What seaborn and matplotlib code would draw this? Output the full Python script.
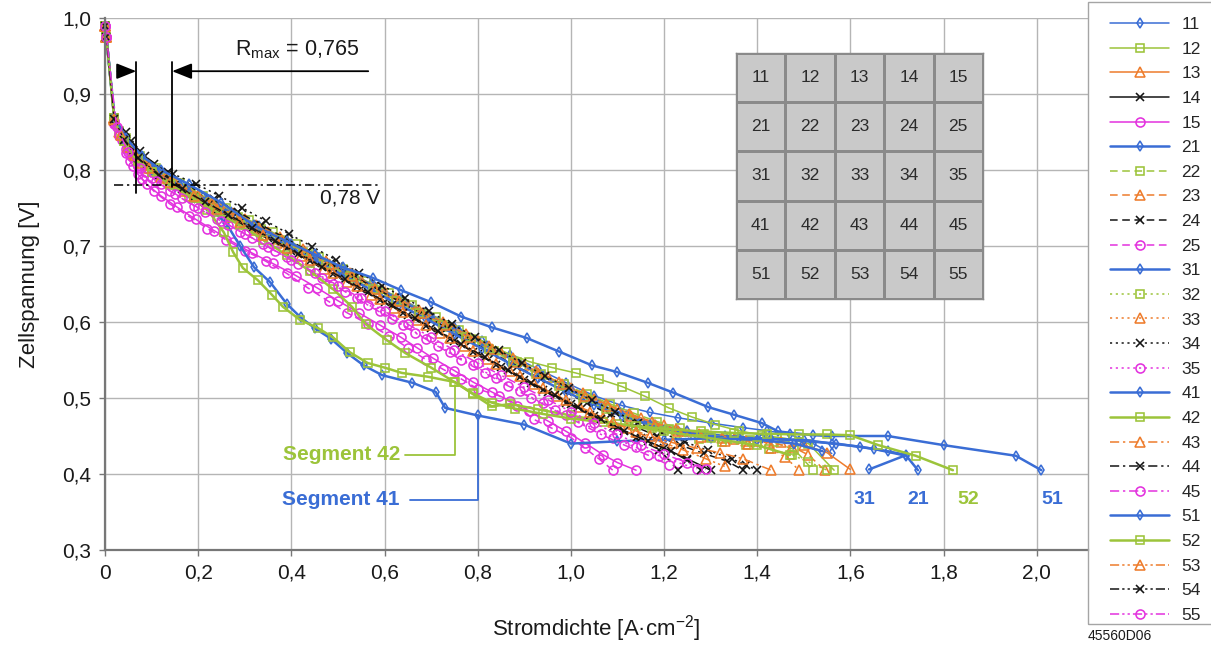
import numpy as np
import pandas as pd
import matplotlib
matplotlib.use("Agg")
import matplotlib.pyplot as plt
from matplotlib.colors import ListedColormap
from matplotlib.patches import Rectangle
import seaborn as sns

# Polarisation curves of the 25 cell segments
# current density I [A/cm²] and cell voltage U [V]
I11 = [0, 0.003, 0.02, 0.04, 0.07, 0.11, 0.16, 0.21, 0.27, 0.33, 0.39, 0.45, 0.51, 0.57, 0.63, 0.69, 0.75, 0.81, 0.87, 0.93,
       0.99, 1.05, 1.11, 1.17, 1.23, 1.30, 1.37, 1.42, 1.47, 1.52, 1.56]
U11 = [0.99, 0.975, 0.868, 0.84, 0.815, 0.797, 0.78, 0.765, 0.745, 0.726, 0.707, 0.688, 0.669, 0.65, 0.632, 0.613, 0.594, 0.575, 0.556, 0.538,
       0.52, 0.503, 0.49, 0.481, 0.474, 0.467, 0.461, 0.457, 0.452, 0.44, 0.427]

I12 = [0, 0.003, 0.02, 0.045, 0.075, 0.11, 0.16, 0.21, 0.26, 0.31, 0.36, 0.41, 0.46, 0.51, 0.56, 0.61, 0.66, 0.71, 0.76, 0.81,
       0.86, 0.91, 0.96, 1.01, 1.06, 1.11, 1.16, 1.21, 1.26, 1.31, 1.36, 1.41, 1.46, 1.51, 1.565]
U12 = [0.99, 0.975, 0.868, 0.842, 0.818, 0.802, 0.783, 0.766, 0.75, 0.734, 0.718, 0.702, 0.686, 0.67, 0.654, 0.638, 0.622, 0.606, 0.59, 0.575,
       0.56, 0.548, 0.54, 0.533, 0.525, 0.515, 0.502, 0.487, 0.475, 0.465, 0.457, 0.451, 0.447, 0.44, 0.405]

I13 = [0, 0.003, 0.02, 0.04, 0.07, 0.10, 0.15, 0.20, 0.25, 0.30, 0.35, 0.40, 0.45, 0.50, 0.55, 0.60, 0.65, 0.70, 0.75, 0.80,
       0.85, 0.90, 0.95, 1.00, 1.05, 1.10, 1.15, 1.20, 1.25, 1.30, 1.35, 1.40, 1.45, 1.50, 1.55, 1.60]
U13 = [0.99, 0.975, 0.868, 0.842, 0.818, 0.803, 0.784, 0.767, 0.751, 0.735, 0.719, 0.703, 0.687, 0.671, 0.655, 0.639, 0.623, 0.607, 0.591, 0.575,
       0.559, 0.543, 0.528, 0.513, 0.499, 0.486, 0.474, 0.464, 0.456, 0.45, 0.446, 0.444, 0.442, 0.438, 0.428, 0.406]

I14 = [0, 0.003, 0.02, 0.04, 0.07, 0.10, 0.15, 0.20, 0.25, 0.30, 0.35, 0.40, 0.45, 0.50, 0.55, 0.60, 0.65, 0.70, 0.75, 0.80,
       0.85, 0.90, 0.95, 1.00, 1.05, 1.10, 1.15, 1.20, 1.25, 1.30]
U14 = [0.99, 0.975, 0.868, 0.838, 0.815, 0.800, 0.780, 0.762, 0.745, 0.728, 0.711, 0.694, 0.677, 0.660, 0.643, 0.626, 0.609, 0.592, 0.575, 0.558,
       0.541, 0.524, 0.508, 0.492, 0.476, 0.461, 0.447, 0.434, 0.42, 0.405]

I15 = [0, 0.003, 0.02, 0.036, 0.054, 0.07, 0.09, 0.12, 0.155, 0.195, 0.235, 0.275, 0.315, 0.36, 0.41, 0.455, 0.50, 0.545, 0.59, 0.635,
       0.67, 0.705, 0.75, 0.79, 0.83, 0.87, 0.91, 0.95, 0.99, 1.03, 1.07, 1.10, 1.14]
U15 = [0.99, 0.975, 0.862, 0.84, 0.812, 0.795, 0.781, 0.766, 0.751, 0.735, 0.72, 0.705, 0.691, 0.677, 0.661, 0.645, 0.628, 0.612, 0.596, 0.58,
       0.566, 0.552, 0.536, 0.521, 0.508, 0.496, 0.483, 0.47, 0.456, 0.441, 0.425, 0.415, 0.405]

I21 = [0, 0.003, 0.02, 0.045, 0.075, 0.11, 0.16, 0.22, 0.28, 0.34, 0.40, 0.46, 0.52, 0.58, 0.64, 0.70, 0.76, 0.82, 0.88, 0.94,
       1.00, 1.06, 1.12, 1.18, 1.25, 1.33, 1.41, 1.49, 1.57, 1.65, 1.72, 1.745]
U21 = [0.99, 0.975, 0.87, 0.838, 0.814, 0.797, 0.779, 0.76, 0.741, 0.722, 0.703, 0.684, 0.665, 0.646, 0.627, 0.607, 0.588, 0.568, 0.549, 0.529,
       0.51, 0.492, 0.477, 0.465, 0.456, 0.45, 0.447, 0.444, 0.44, 0.433, 0.424, 0.405]

I22 = [0, 0.003, 0.02, 0.03, 0.06, 0.09, 0.135, 0.185, 0.235, 0.285, 0.335, 0.385, 0.435, 0.485, 0.535, 0.585, 0.635, 0.685, 0.735, 0.785,
       0.835, 0.885, 0.935, 0.985, 1.035, 1.085, 1.135, 1.185, 1.235, 1.285, 1.335, 1.385, 1.435, 1.48, 1.52]
U22 = [0.99, 0.975, 0.868, 0.851, 0.822, 0.806, 0.787, 0.77, 0.754, 0.738, 0.722, 0.706, 0.69, 0.674, 0.658, 0.642, 0.626, 0.61, 0.594, 0.578,
       0.562, 0.547, 0.532, 0.518, 0.505, 0.492, 0.48, 0.469, 0.46, 0.453, 0.448, 0.445, 0.442, 0.432, 0.405]

I23 = [0, 0.003, 0.02, 0.045, 0.075, 0.125, 0.175, 0.225, 0.275, 0.325, 0.375, 0.425, 0.475, 0.525, 0.575, 0.625, 0.675, 0.725, 0.775, 0.825,
       0.875, 0.925, 0.975, 1.025, 1.075, 1.125, 1.175, 1.225, 1.275, 1.325, 1.375, 1.425, 1.475, 1.51, 1.545]
U23 = [0.99, 0.975, 0.868, 0.84, 0.816, 0.793, 0.776, 0.76, 0.744, 0.728, 0.712, 0.696, 0.68, 0.664, 0.648, 0.632, 0.616, 0.6, 0.584, 0.568,
       0.552, 0.536, 0.521, 0.506, 0.492, 0.479, 0.468, 0.459, 0.452, 0.447, 0.444, 0.441, 0.436, 0.425, 0.405]

I24 = [0, 0.003, 0.02, 0.055, 0.085, 0.135, 0.185, 0.235, 0.285, 0.335, 0.385, 0.435, 0.485, 0.535, 0.585, 0.635, 0.685, 0.735, 0.785, 0.835,
       0.885, 0.935, 0.985, 1.035, 1.085, 1.135, 1.185, 1.235, 1.285, 1.335, 1.37]
U24 = [0.99, 0.975, 0.868, 0.838, 0.818, 0.797, 0.779, 0.762, 0.745, 0.728, 0.711, 0.694, 0.677, 0.66, 0.643, 0.626, 0.609, 0.592, 0.575, 0.558,
       0.541, 0.525, 0.509, 0.493, 0.478, 0.463, 0.45, 0.438, 0.427, 0.417, 0.405]

I25 = [0, 0.003, 0.02, 0.03, 0.045, 0.06, 0.08, 0.105, 0.14, 0.18, 0.22, 0.26, 0.30, 0.345, 0.39, 0.435, 0.48, 0.52, 0.565, 0.61,
       0.65, 0.69, 0.725, 0.765, 0.80, 0.845, 0.885, 0.92, 0.96, 1.0, 1.03, 1.06, 1.09]
U25 = [0.99, 0.975, 0.86, 0.845, 0.822, 0.805, 0.788, 0.772, 0.755, 0.739, 0.723, 0.708, 0.694, 0.68, 0.664, 0.645, 0.627, 0.612, 0.597, 0.582,
       0.566, 0.55, 0.538, 0.525, 0.512, 0.503, 0.49, 0.472, 0.46, 0.448, 0.434, 0.42, 0.405]

I31 = [0, 0.003, 0.02, 0.04, 0.07, 0.105, 0.15, 0.21, 0.27, 0.33, 0.39, 0.45, 0.51, 0.57, 0.63, 0.69, 0.75, 0.81, 0.87, 0.93,
       0.99, 1.05, 1.11, 1.17, 1.23, 1.29, 1.36, 1.43, 1.50, 1.56, 1.62, 1.68, 1.72, 1.64]
U31 = [0.99, 0.975, 0.866, 0.838, 0.813, 0.795, 0.778, 0.758, 0.739, 0.72, 0.701, 0.682, 0.662, 0.643, 0.623, 0.604, 0.584, 0.565, 0.545, 0.526,
       0.508, 0.491, 0.476, 0.464, 0.456, 0.45, 0.447, 0.446, 0.445, 0.44, 0.436, 0.43, 0.425, 0.406]

I32 = [0, 0.003, 0.02, 0.05, 0.085, 0.125, 0.175, 0.225, 0.275, 0.325, 0.375, 0.425, 0.475, 0.525, 0.575, 0.625, 0.675, 0.725, 0.775, 0.825,
       0.875, 0.925, 0.975, 1.025, 1.075, 1.125, 1.175, 1.225, 1.275, 1.325, 1.375, 1.425, 1.475, 1.51, 1.55]
U32 = [0.99, 0.975, 0.866, 0.829, 0.806, 0.79, 0.772, 0.756, 0.74, 0.724, 0.708, 0.692, 0.676, 0.66, 0.644, 0.628, 0.612, 0.596, 0.58, 0.564,
       0.548, 0.532, 0.516, 0.5, 0.485, 0.472, 0.461, 0.452, 0.446, 0.442, 0.438, 0.433, 0.425, 0.416, 0.405]

I33 = [0, 0.003, 0.02, 0.03, 0.06, 0.09, 0.13, 0.18, 0.23, 0.28, 0.33, 0.38, 0.43, 0.48, 0.53, 0.58, 0.63, 0.68, 0.73, 0.78,
       0.83, 0.88, 0.93, 0.98, 1.03, 1.08, 1.13, 1.18, 1.23, 1.28, 1.33, 1.38, 1.43, 1.46, 1.49]
U33 = [0.99, 0.975, 0.868, 0.85, 0.823, 0.806, 0.79, 0.772, 0.756, 0.74, 0.724, 0.708, 0.692, 0.676, 0.66, 0.644, 0.628, 0.612, 0.596, 0.58,
       0.564, 0.548, 0.533, 0.518, 0.503, 0.489, 0.476, 0.465, 0.456, 0.449, 0.444, 0.44, 0.434, 0.422, 0.405]

I34 = [0, 0.003, 0.02, 0.045, 0.075, 0.105, 0.145, 0.195, 0.245, 0.295, 0.345, 0.395, 0.445, 0.495, 0.545, 0.595, 0.645, 0.695, 0.745, 0.795,
       0.845, 0.895, 0.945, 0.995, 1.045, 1.095, 1.145, 1.195, 1.245, 1.295, 1.345, 1.375, 1.40]
U34 = [0.99, 0.975, 0.868, 0.85, 0.825, 0.808, 0.795, 0.782, 0.766, 0.75, 0.733, 0.716, 0.699, 0.682, 0.665, 0.648, 0.631, 0.614, 0.597, 0.58,
       0.563, 0.546, 0.529, 0.513, 0.497, 0.482, 0.467, 0.454, 0.442, 0.431, 0.42, 0.412, 0.405]

I35 = [0, 0.003, 0.02, 0.045, 0.07, 0.10, 0.14, 0.19, 0.24, 0.29, 0.34, 0.39, 0.44, 0.49, 0.54, 0.59, 0.64, 0.69, 0.74, 0.79,
       0.84, 0.89, 0.94, 0.99, 1.04, 1.09, 1.14, 1.19, 1.23, 1.27]
U35 = [0.99, 0.975, 0.864, 0.828, 0.805, 0.79, 0.772, 0.753, 0.736, 0.719, 0.702, 0.685, 0.668, 0.65, 0.632, 0.614, 0.596, 0.578, 0.56, 0.543,
       0.526, 0.509, 0.493, 0.477, 0.462, 0.448, 0.435, 0.424, 0.415, 0.407]

I41 = [0, 0.003, 0.02, 0.04, 0.07, 0.10, 0.14, 0.18, 0.22, 0.26, 0.29, 0.32, 0.355, 0.39, 0.42, 0.45, 0.485, 0.52, 0.555, 0.595,
       0.66, 0.71, 0.73, 0.80, 0.90, 1.00, 1.10, 1.20, 1.30, 1.40, 1.48, 1.54]
U41 = [0.99, 0.975, 0.87, 0.84, 0.815, 0.8, 0.784, 0.77, 0.752, 0.73, 0.70, 0.672, 0.652, 0.624, 0.606, 0.592, 0.578, 0.559, 0.543, 0.53,
       0.52, 0.508, 0.487, 0.477, 0.465, 0.44, 0.443, 0.445, 0.447, 0.445, 0.44, 0.43]

I42 = [0, 0.003, 0.02, 0.04, 0.07, 0.10, 0.14, 0.18, 0.22, 0.255, 0.275, 0.296, 0.328, 0.358, 0.382, 0.418, 0.457, 0.489, 0.526, 0.564,
       0.60, 0.637, 0.693, 0.751, 0.79, 0.83, 0.87, 0.93, 1.0, 1.1, 1.2, 1.3, 1.4, 1.47]
U42 = [0.99, 0.975, 0.868, 0.838, 0.812, 0.797, 0.78, 0.765, 0.748, 0.718, 0.692, 0.671, 0.655, 0.636, 0.62, 0.603, 0.592, 0.58, 0.56, 0.546,
       0.54, 0.533, 0.528, 0.521, 0.505, 0.489, 0.492, 0.485, 0.477, 0.466, 0.456, 0.447, 0.438, 0.425]

I43 = [0, 0.003, 0.02, 0.05, 0.08, 0.12, 0.17, 0.22, 0.27, 0.32, 0.37, 0.42, 0.47, 0.52, 0.57, 0.62, 0.67, 0.72, 0.77, 0.82,
       0.87, 0.92, 0.97, 1.02, 1.07, 1.12, 1.17, 1.22, 1.27, 1.32, 1.37, 1.43]
U43 = [0.99, 0.975, 0.866, 0.83, 0.809, 0.791, 0.772, 0.755, 0.738, 0.721, 0.704, 0.687, 0.67, 0.653, 0.636, 0.619, 0.602, 0.585, 0.568, 0.551,
       0.535, 0.519, 0.503, 0.488, 0.474, 0.461, 0.45, 0.441, 0.434, 0.428, 0.42, 0.405]

I44 = [0, 0.003, 0.02, 0.06, 0.09, 0.14, 0.19, 0.24, 0.29, 0.34, 0.39, 0.44, 0.49, 0.54, 0.59, 0.64, 0.69, 0.74, 0.79, 0.84,
       0.89, 0.94, 0.99, 1.04, 1.09, 1.14, 1.19, 1.23]
U44 = [0.99, 0.975, 0.865, 0.826, 0.806, 0.788, 0.765, 0.748, 0.731, 0.714, 0.697, 0.68, 0.663, 0.646, 0.629, 0.612, 0.595, 0.578, 0.561, 0.544,
       0.527, 0.51, 0.494, 0.478, 0.462, 0.447, 0.432, 0.405]

I45 = [0, 0.003, 0.02, 0.03, 0.055, 0.085, 0.12, 0.165, 0.215, 0.265, 0.315, 0.365, 0.415, 0.465, 0.515, 0.565, 0.615, 0.665, 0.715, 0.765,
       0.815, 0.865, 0.915, 0.965, 1.015, 1.065, 1.115, 1.165, 1.21]
U45 = [0.99, 0.975, 0.864, 0.848, 0.818, 0.798, 0.781, 0.763, 0.745, 0.728, 0.711, 0.694, 0.676, 0.658, 0.64, 0.622, 0.604, 0.586, 0.568, 0.55,
       0.533, 0.516, 0.5, 0.484, 0.468, 0.452, 0.438, 0.425, 0.412]

I51 = [0, 0.003, 0.02, 0.045, 0.08, 0.12, 0.18, 0.25, 0.32, 0.39, 0.45, 0.51, 0.575, 0.635, 0.70, 0.765, 0.83, 0.905, 0.975, 1.045,
       1.10, 1.165, 1.22, 1.295, 1.35, 1.41, 1.445, 1.52, 1.56, 1.68, 1.80, 1.955, 2.01]
U51 = [0.99, 0.975, 0.87, 0.842, 0.818, 0.8, 0.781, 0.757, 0.727, 0.706, 0.689, 0.672, 0.658, 0.642, 0.626, 0.607, 0.593, 0.579, 0.561, 0.543,
       0.534, 0.52, 0.507, 0.488, 0.478, 0.467, 0.456, 0.451, 0.45, 0.45, 0.438, 0.424, 0.405]

I52 = [0, 0.003, 0.02, 0.04, 0.07, 0.10, 0.14, 0.19, 0.24, 0.29, 0.34, 0.39, 0.44, 0.49, 0.53, 0.56, 0.605, 0.645, 0.70, 0.75,
       0.79, 0.83, 0.88, 0.94, 1.00, 1.07, 1.14, 1.21, 1.28, 1.35, 1.42, 1.49, 1.55, 1.60, 1.66, 1.74, 1.82]
U52 = [0.99, 0.975, 0.866, 0.838, 0.814, 0.798, 0.781, 0.763, 0.745, 0.727, 0.708, 0.688, 0.667, 0.643, 0.62, 0.597, 0.576, 0.559, 0.54, 0.521,
       0.506, 0.494, 0.486, 0.479, 0.473, 0.468, 0.463, 0.459, 0.456, 0.454, 0.453, 0.452, 0.452, 0.451, 0.438, 0.424, 0.405]

I53 = [0, 0.003, 0.02, 0.035, 0.065, 0.095, 0.14, 0.19, 0.24, 0.29, 0.34, 0.39, 0.44, 0.49, 0.54, 0.59, 0.64, 0.69, 0.74, 0.79,
       0.84, 0.89, 0.94, 0.99, 1.04, 1.09, 1.14, 1.19, 1.24, 1.29, 1.33]
U53 = [0.99, 0.975, 0.867, 0.846, 0.82, 0.803, 0.784, 0.766, 0.749, 0.732, 0.715, 0.698, 0.681, 0.664, 0.647, 0.63, 0.613, 0.596, 0.579, 0.562,
       0.545, 0.529, 0.513, 0.497, 0.482, 0.468, 0.455, 0.443, 0.432, 0.42, 0.41]

I54 = [0, 0.003, 0.02, 0.04, 0.07, 0.115, 0.165, 0.215, 0.265, 0.315, 0.365, 0.415, 0.465, 0.515, 0.565, 0.615, 0.665, 0.715, 0.765, 0.815,
       0.865, 0.915, 0.965, 1.015, 1.065, 1.115, 1.165, 1.215, 1.25, 1.28]
U54 = [0.99, 0.975, 0.867, 0.84, 0.816, 0.793, 0.775, 0.758, 0.741, 0.724, 0.707, 0.69, 0.673, 0.656, 0.639, 0.622, 0.605, 0.588, 0.571, 0.554,
       0.537, 0.52, 0.504, 0.488, 0.472, 0.457, 0.443, 0.43, 0.418, 0.405]

I55 = [0, 0.003, 0.025, 0.05, 0.075, 0.11, 0.15, 0.20, 0.25, 0.30, 0.35, 0.40, 0.45, 0.50, 0.55, 0.60, 0.65, 0.70, 0.75, 0.80,
       0.85, 0.90, 0.95, 1.00, 1.05, 1.10, 1.15, 1.20, 1.25, 1.29]
U55 = [0.99, 0.975, 0.856, 0.824, 0.803, 0.786, 0.768, 0.75, 0.733, 0.716, 0.699, 0.682, 0.665, 0.648, 0.631, 0.614, 0.597, 0.58, 0.563, 0.546,
       0.53, 0.514, 0.498, 0.482, 0.467, 0.452, 0.438, 0.426, 0.415, 0.406]

SEGMENTS = ["11", "12", "13", "14", "15", "21", "22", "23", "24", "25",
            "31", "32", "33", "34", "35", "41", "42", "43", "44", "45",
            "51", "52", "53", "54", "55"]
CURVES = {
    "11": (I11, U11), "12": (I12, U12), "13": (I13, U13), "14": (I14, U14), "15": (I15, U15),
    "21": (I21, U21), "22": (I22, U22), "23": (I23, U23), "24": (I24, U24), "25": (I25, U25),
    "31": (I31, U31), "32": (I32, U32), "33": (I33, U33), "34": (I34, U34), "35": (I35, U35),
    "41": (I41, U41), "42": (I42, U42), "43": (I43, U43), "44": (I44, U44), "45": (I45, U45),
    "51": (I51, U51), "52": (I52, U52), "53": (I53, U53), "54": (I54, U54), "55": (I55, U55),
}

GRID_ROWS = ["1", "2", "3", "4", "5"]
GRID_COLS = ["1", "2", "3", "4", "5"]

X_TICKS = [0.0, 0.2, 0.4, 0.6, 0.8, 1.0, 1.2, 1.4, 1.6, 1.8, 2.0]
X_TICK_LABELS = ["0", "0,2", "0,4", "0,6", "0,8", "1,0", "1,2", "1,4", "1,6", "1,8", "2,0"]
Y_TICKS = [0.3, 0.4, 0.5, 0.6, 0.7, 0.8, 0.9, 1.0]
Y_TICK_LABELS = ["0,3", "0,4", "0,5", "0,6", "0,7", "0,8", "0,9", "1,0"]

U_REF = 0.78
U_REF_LABEL = "0,78 V"
R_MAX_LABEL = "0,765"

# long-form table for seaborn
frames = []
for seg in SEGMENTS:
    i_vals, u_vals = CURVES[seg]
    frames.append(pd.DataFrame({"I": i_vals, "U": u_vals, "Segment": seg}))
data = pd.concat(frames, ignore_index=True)

# ---------------------------------------------------------------- styles
BLUE = "#3a6dd5"
GREEN = "#9cc43a"
ORANGE = "#ee7c2c"
BLACK = "#151515"
MAGENTA = "#e332de"

COLOR_BY_COL = {"1": BLUE, "2": GREEN, "3": ORANGE, "4": BLACK, "5": MAGENTA}
MARKER_BY_COL = {"1": "d", "2": "s", "3": "^", "4": "x", "5": "o"}
MSIZE_BY_COL = {"1": 5.5, "2": 6.0, "3": 6.5, "4": 6.0, "5": 6.5}
DASH_BY_ROW = {"1": "-", "2": (0, (5, 3)), "3": (0, (1.4, 2.4)),
               "4": (0, (6, 2.5, 1.5, 2.5)), "5": (0, (6, 2, 1.5, 2, 1.5, 2))}
THICK = {"21", "31", "41", "51", "42", "52"}

sns.set_style("white")
plt.rcParams["font.family"] = ["Liberation Sans", "DejaVu Sans"]
plt.rcParams["mathtext.fontset"] = "custom"
plt.rcParams["mathtext.rm"] = "Liberation Sans"
plt.rcParams["mathtext.it"] = "Liberation Sans:italic"

fig = plt.figure(figsize=(12.11, 6.5), dpi=100)
ax = fig.add_axes([105 / 1211, 1 - 550 / 650, (1088 - 105) / 1211, (550 - 18) / 650])

handles = []
for seg in SEGMENTS:
    row, col = seg[0], seg[1]
    color = COLOR_BY_COL[col]
    ls = "-" if col == "1" or seg in ("42", "52") else DASH_BY_ROW[row]
    lw = 1.8 if seg in THICK else 1.1
    sub = data[data["Segment"] == seg]
    sns.lineplot(data=sub, x="I", y="U", ax=ax, sort=False, estimator=None,
                 color=color, linestyle=ls, linewidth=lw,
                 marker=MARKER_BY_COL[col], markersize=MSIZE_BY_COL[col],
                 markerfacecolor="none", markeredgecolor=color, markeredgewidth=1.15,
                 legend=False)
    line = ax.lines[-1]
    line.set_clip_on(False)
    handles.append(line)

# axes
ax.set_xlim(0, 2.11)
ax.set_ylim(0.3, 1.0)
ax.set_xticks(X_TICKS)
ax.set_xticklabels(X_TICK_LABELS)
ax.set_yticks(Y_TICKS)
ax.set_yticklabels(Y_TICK_LABELS)
ax.tick_params(axis="both", which="both", bottom=True, left=True, direction="out",
               length=4, width=1, color="#777777", labelsize=15, pad=6, labelcolor="#1a1a1a")
ax.grid(True, color="#b5b5b5", linewidth=1)
ax.set_axisbelow(True)
for side in ("top", "right"):
    ax.spines[side].set_visible(False)
for side in ("left", "bottom"):
    ax.spines[side].set_color("#777777")
    ax.spines[side].set_linewidth(1.6)
ax.set_xlabel("Stromdichte [A·cm$^{-2}$]", fontsize=16, labelpad=22, color="#1a1a1a")
ax.set_ylabel("Zellspannung [V]", fontsize=16, labelpad=16, color="#1a1a1a")

# reference voltage and width of the scatter band
ax.plot([0.02, 0.585], [U_REF, U_REF], color="black", lw=1.1,
        linestyle=(0, (6, 2.5, 1.5, 2.5)), zorder=5)
ax.text(0.59, U_REF - 0.017, U_REF_LABEL, ha="right", va="center", fontsize=15, color="#1a1a1a")
ax.plot([0.067, 0.067], [0.77, 0.942], color="black", lw=1.3, zorder=5)
ax.plot([0.144, 0.144], [0.778, 0.942], color="black", lw=1.3, zorder=5)
arrow = dict(arrowstyle="-|>,head_length=0.8,head_width=0.32", color="black",
             lw=1.3, shrinkA=0, shrinkB=0, mutation_scale=15)
ax.annotate("", xy=(0.067, 0.93), xytext=(0.027, 0.93), arrowprops=arrow, zorder=5)
ax.annotate("", xy=(0.144, 0.93), xytext=(0.565, 0.93), arrowprops=arrow, zorder=5)
ax.text(0.412, 0.958, "R$_{\\mathrm{max}}$ = " + R_MAX_LABEL, ha="center", va="center",
        fontsize=15.5, color="#1a1a1a")

# segment call-outs
ax.text(0.633, 0.425, "Segment 42", ha="right", va="center", fontsize=15,
        fontweight="bold", color=GREEN)
ax.plot([0.645, 0.751, 0.751], [0.425, 0.425, 0.517], color=GREEN, lw=1.3)
ax.text(0.633, 0.366, "Segment 41", ha="right", va="center", fontsize=15,
        fontweight="bold", color=BLUE)
ax.plot([0.654, 0.80, 0.80], [0.366, 0.366, 0.478], color=BLUE, lw=1.3)

for seg, xpos in (("31", 1.629), ("21", 1.745), ("52", 1.852), ("51", 2.034)):
    ax.text(xpos, 0.366, seg, ha="center", va="center", fontsize=14,
            fontweight="bold", color=COLOR_BY_COL[seg[1]])

# segment layout of the cell
tax = fig.add_axes([736 / 1211, 1 - 299 / 650, 247 / 1211, 246 / 650])
grid_labels = np.array([[r + c for c in GRID_COLS] for r in GRID_ROWS])
sns.heatmap(np.zeros((len(GRID_ROWS), len(GRID_COLS))), ax=tax,
            cmap=ListedColormap(["#c9c9c9"]), cbar=False,
            annot=grid_labels, fmt="", annot_kws={"fontsize": 12.5, "color": "#2b2b2b"},
            linewidths=1, linecolor="#8a8a8a", xticklabels=False, yticklabels=False)
for sp in tax.spines.values():
    sp.set_visible(True)
    sp.set_color("#8a8a8a")
    sp.set_linewidth(1)

# legend box at the right edge
fig.add_artist(Rectangle((1088 / 1211, 26 / 650), 0.2, (650 - 2 - 26) / 650,
                         transform=fig.transFigure, fill=False,
                         edgecolor="#a5a5a5", linewidth=1))
fig.legend(handles, SEGMENTS, loc="upper left", bbox_to_anchor=(1110 / 1211, 1 - 17 / 650),
           frameon=False, fontsize=12.5, handlelength=3.4, handletextpad=0.7,
           labelspacing=0.545, borderaxespad=0, borderpad=0)

fig.text(1088 / 1211, 14 / 650, "45560D06", ha="left", va="center", fontsize=10, color="#1a1a1a")

fig.savefig("out.png", dpi=100)
